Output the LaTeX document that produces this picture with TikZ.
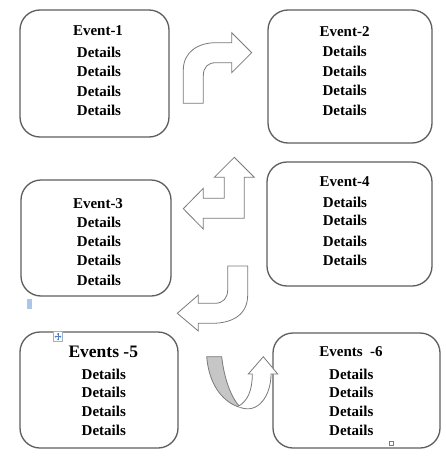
\documentclass[tikz,border=0pt]{standalone}
\usepackage{fontspec}
\setmainfont{Liberation Serif}
\begin{document}
\begin{tikzpicture}[x=1pt,y=-1pt,
  evbox/.style={draw=boxgray, line width=1.3pt, rounded corners=20pt, fill=white, inner sep=0pt},
  lbl/.style={anchor=base, inner sep=0pt, font=\bfseries\fontsize{15}{18}\selectfont},
  blockarrow/.style={draw=arrgray, line width=0.8pt, fill=white, line join=miter},
]
\definecolor{boxgray}{HTML}{5E5E5E}
\definecolor{arrgray}{HTML}{7A7A7A}
\definecolor{ribbon}{HTML}{C6C6C6}
\definecolor{selblue}{HTML}{A9C8E8}
\definecolor{handleblue}{HTML}{4A7FC1}
\useasboundingbox (0,0) rectangle (445,458);
\fill[white] (0,0) rectangle (445,458);

% boxes
\node[evbox, minimum width=149pt, minimum height=127pt] (b1) at (94.5,73.5) {};
\node[evbox, minimum width=164pt, minimum height=133pt] (b2) at (350,76.5) {};
\node[evbox, minimum width=150pt, minimum height=116pt] (b3) at (96,238) {};
\node[evbox, minimum width=165pt, minimum height=124pt] (b4) at (349.5,224) {};
\node[evbox, minimum width=158pt, minimum height=116pt] (b5) at (99,390) {};
\node[evbox, minimum width=167pt, minimum height=115pt] (b6) at (356.5,390.5) {};

% texts
\node[lbl] (t1) at (98,35.5) {Event-1};
\foreach \y [count=\i] in {57,76.5,96,115} \node[lbl] (d1-\i) at (99,\y) {Details};
\node[lbl] (t2) at (344.5,36) {Event-2};
\foreach \y [count=\i] in {56,76,95.7,115} \node[lbl] (d2-\i) at (344.7,\y) {Details};
\node[lbl] (t3) at (98,208.3) {Event-3};
\foreach \y [count=\i] in {227.3,246.7,265.7,285} \node[lbl] (d3-\i) at (99,\y) {Details};
\node[lbl] (t4) at (344.7,186.7) {Event-4};
\foreach \y [count=\i] in {207.3,225.7,246.7,265.7} \node[lbl] (d4-\i) at (345,\y) {Details};
\node[lbl, font=\bfseries\fontsize{17.5}{20}\selectfont] (t5) at (103.3,357.3) {Events -5};
\foreach \y [count=\i] in {379,397.3,416.7,435.7} \node[lbl] (d5-\i) at (103.8,\y) {Details};
\node[lbl] (t6) at (351,356.7) {Events\ \ -6};
\foreach \y [count=\i] in {379,397.3,416.7,435.7} \node[lbl] (d6-\i) at (351.3,\y) {Details};

% arrow 1: curved right
\draw[blockarrow] (183.3,103.3) -- (183.3,70)
  .. controls (183.3,52) and (198,42.7) .. (216,42.7) -- (231.7,42.7)
  -- (231.7,32.7) -- (251.7,52.7) -- (231.7,72.7) -- (231.7,62.7)
  -- (216,62.7) .. controls (208,62.7) and (203.3,67) .. (203.3,76)
  -- (203.3,103.3) -- cycle;

% arrow 2: bent up/left
\draw[blockarrow] (183.3,208.7) -- (203.3,188.3) -- (203.3,198.3) -- (224.3,198.3)
  -- (224.3,177.3) -- (214.3,177.3) -- (234.3,157.3) -- (254.3,177.3)
  -- (244.3,177.3) -- (244.3,218.3) -- (203.3,218.3) -- (203.3,229) -- cycle;

% arrow 3: curved left
\draw[blockarrow] (227.7,266) -- (247.7,266) -- (247.7,295)
  .. controls (247.7,315) and (232,323.3) .. (212,323.3) -- (198.3,323.3)
  -- (198.3,331) -- (177.3,313.3) -- (198.3,295) -- (198.3,303.3)
  -- (215,303.3) .. controls (223,303.3) and (227.7,298) .. (227.7,290) -- cycle;

% arrow 4: U-turn ribbon
\draw[draw=arrgray, line width=0.8pt, fill=ribbon] (206.7,356.7) -- (221.7,356.7)
  .. controls (224,378) and (231,398) .. (240.5,407.5)
  .. controls (224,403) and (209,386) .. (206.7,356.7) -- cycle;
\draw[blockarrow] (240.5,407.5) .. controls (258,414) and (271,396) .. (271,374)
  -- (277.7,374) -- (263.3,356.7) -- (248.3,374) -- (252.3,374)
  .. controls (252.3,390) and (248,401) .. (238,406.5);

% small editor marks
\fill[selblue] (26.7,299.3) rectangle (32.3,309.3);
\draw[draw=selblue!70!gray, line width=0.5pt, fill=white] (53.3,331.7) rectangle (62.7,341.7);
\draw[handleblue, line width=0.6pt] (55,336.7) -- (61,336.7) (58,333.4) -- (58,340);
\fill[handleblue] (54.6,336.7) -- (56.2,335.5) -- (56.2,337.9) -- cycle
  (61.4,336.7) -- (59.8,335.5) -- (59.8,337.9) -- cycle
  (58,333) -- (56.8,334.6) -- (59.2,334.6) -- cycle
  (58,340.4) -- (56.8,338.8) -- (59.2,338.8) -- cycle;
\draw[arrgray, line width=0.5pt, fill=white] (389,441.7) rectangle (393.3,445.7);
\end{tikzpicture}
\end{document}
